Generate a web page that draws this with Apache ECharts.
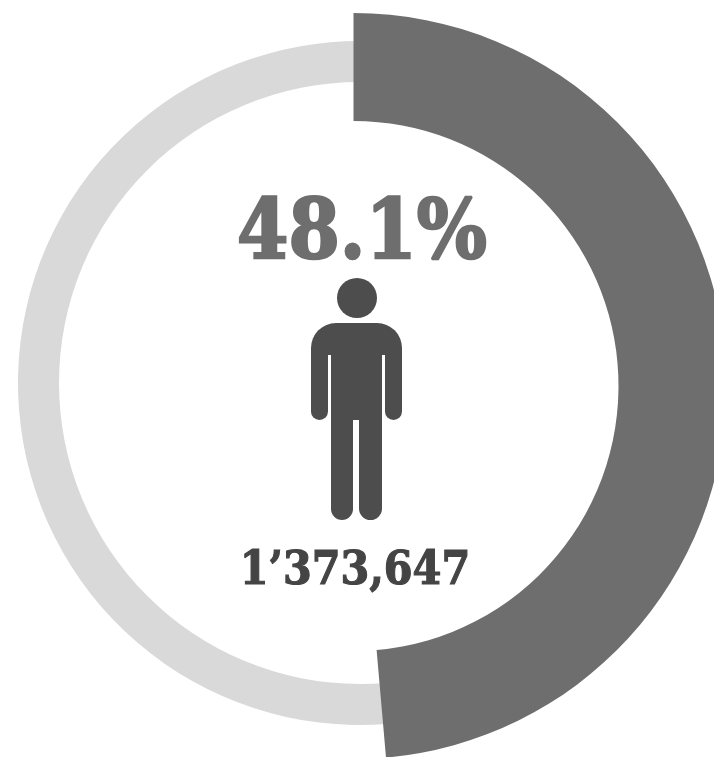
<!DOCTYPE html>
<html>
<head>
<meta charset="utf-8">
<style>
  html, body { margin: 0; padding: 0; background: #fff; }
  #main { width: 714px; height: 757px; }
</style>
<script src="https://cdn.jsdelivr.net/npm/echarts@6/dist/echarts.min.js"></script>
</head>
<body>
<div id="main"></div>
<script>
var shareLabel = '48.1%';
var countLabel = '1’373,647';
var shareValues = [48.1];
var restValues = [51.9];
var personColor = '#4d4d4d';

// person icon built out of rounded rects
function personPart(x, y, width, height, r) {
  return {
    type: 'rect',
    shape: {x: x, y: y, width: width, height: height, r: r},
    style: {fill: personColor}
  };
}

var chart = echarts.init(document.getElementById('main'));
chart.setOption({
  animation: false,
  backgroundColor: '#fff',
  series: [
    {
      type: 'pie',
      silent: true,
      center: [360, 383],
      radius: [301, 342],
      startAngle: -80,
      endAngle: -270,
      label: {show: false},
      labelLine: {show: false},
      itemStyle: {color: '#d9d9d9'},
      data: restValues
    },
    {
      type: 'pie',
      silent: true,
      center: [353.5, 386],
      radius: [265, 373],
      startAngle: 90,
      endAngle: -85,
      label: {show: false},
      labelLine: {show: false},
      itemStyle: {color: '#6e6e6e'},
      data: shareValues
    }
  ],
  graphic: [
    {
      type: 'text',
      x: 362,
      y: 237,
      scaleX: 0.9,
      style: {
        text: shareLabel,
        fill: '#6e6e6e',
        stroke: '#6e6e6e',
        lineWidth: 2.5,
        font: 'bold 82px "DejaVu Serif"',
        textAlign: 'center',
        textVerticalAlign: 'middle'
      }
    },
    {
      type: 'circle',
      shape: {cx: 357, cy: 298, r: 20},
      style: {fill: personColor}
    },
    personPart(311, 323, 91, 32, [25, 25, 0, 0]),
    personPart(311, 350, 17, 70, [0, 0, 8.5, 8.5]),
    personPart(385, 350, 17, 70, [0, 0, 8.5, 8.5]),
    personPart(331, 350, 51, 70, 0),
    personPart(331, 415, 22, 105, [0, 0, 11, 11]),
    personPart(359, 415, 23, 105, [0, 0, 11.5, 11.5]),
    {
      type: 'text',
      x: 355,
      y: 572,
      scaleX: 0.9,
      style: {
        text: countLabel,
        fill: '#444444',
        stroke: '#444444',
        lineWidth: 1.2,
        font: 'bold 46px "DejaVu Serif"',
        textAlign: 'center',
        textVerticalAlign: 'middle'
      }
    }
  ]
});
</script>
</body>
</html>
